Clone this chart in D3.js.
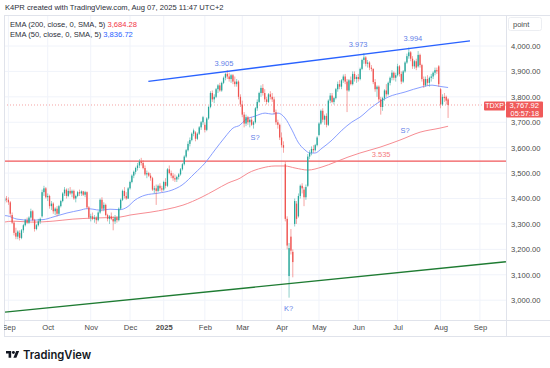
<!DOCTYPE html>
<html><head><meta charset="utf-8">
<script src="https://cdn.jsdelivr.net/npm/d3@7/dist/d3.min.js"></script>
<style>
html,body{margin:0;padding:0;background:#fff;}
svg{display:block;font-family:"Liberation Sans",Arial,sans-serif;}
</style></head>
<body>
<svg id="c" width="550" height="368"></svg>
<script>
// ---------- DATA ----------
const firstIndex = -2; // bar index of first candle (Aug 29 2024); index 0 = Sep 2 2024
// daily candles [open, high, low, close]
const ohlc = [
[3390,3405,3380,3400],[3400,3410,3385,3395],
// Sep 2024
[3395,3405,3375,3385],[3385,3390,3330,3340],[3335,3345,3300,3305],[3305,3310,3255,3265],[3265,3285,3240,3250],
[3250,3275,3240,3270],[3265,3275,3235,3245],[3245,3280,3240,3275],[3275,3300,3265,3295],[3295,3320,3290,3315],
[3315,3325,3300,3305],[3305,3330,3300,3325],[3325,3360,3320,3350],[3350,3355,3310,3315],[3315,3320,3270,3280],
[3280,3300,3275,3295],[3295,3320,3290,3310],[3310,3325,3300,3320],[3330,3435,3325,3425],[3425,3450,3410,3440],
[3440,3445,3400,3405],
// Oct
[3405,3420,3390,3410],[3410,3415,3360,3370],[3370,3390,3355,3380],[3380,3385,3340,3350],[3350,3365,3335,3360],
[3360,3370,3330,3340],[3340,3375,3335,3370],[3370,3395,3365,3390],[3390,3425,3385,3420],[3420,3445,3410,3435],
[3435,3440,3400,3410],[3410,3440,3405,3430],[3430,3445,3415,3420],[3420,3435,3405,3430],[3430,3435,3395,3400],
[3400,3415,3385,3410],[3410,3430,3405,3425],[3425,3435,3410,3420],[3420,3432,3410,3428],[3428,3430,3410,3415],
[3415,3430,3405,3425],[3425,3428,3360,3365],[3365,3370,3320,3325],
// Nov
[3325,3340,3310,3330],[3330,3345,3315,3320],[3320,3335,3305,3325],[3325,3330,3300,3315],[3315,3350,3310,3345],
[3345,3400,3340,3395],[3395,3405,3350,3360],[3360,3385,3350,3375],[3375,3380,3330,3335],[3335,3340,3310,3320],
[3320,3335,3300,3330],[3330,3345,3315,3320],[3320,3330,3275,3310],[3310,3335,3300,3325],[3325,3330,3305,3315],
[3315,3365,3310,3360],[3360,3400,3355,3395],[3395,3435,3390,3430],[3430,3445,3400,3410],[3410,3425,3395,3400],
[3400,3445,3398,3440],
// Dec
[3440,3470,3435,3465],[3465,3495,3460,3490],[3490,3510,3480,3505],[3505,3525,3495,3520],[3520,3540,3510,3530],
[3530,3555,3520,3545],[3545,3560,3530,3540],[3540,3550,3515,3520],[3520,3530,3490,3495],[3495,3510,3480,3500],
[3500,3505,3485,3490],[3490,3500,3470,3480],[3480,3485,3430,3435],[3435,3450,3420,3440],[3440,3455,3375,3430],
[3430,3455,3425,3450],[3450,3460,3430,3440],[3440,3450,3425,3435],
// Jan 2025
[3435,3470,3430,3465],[3465,3480,3440,3450],[3450,3520,3445,3515],[3515,3530,3495,3500],[3500,3510,3480,3490],
[3490,3500,3470,3480],[3480,3495,3465,3475],[3475,3490,3465,3485],[3485,3500,3475,3495],[3495,3520,3490,3515],
[3515,3540,3510,3535],[3535,3570,3530,3565],[3565,3595,3560,3590],[3590,3625,3585,3615],[3615,3640,3605,3630],
[3630,3660,3625,3655],[3655,3675,3645,3668],[3660,3665,3625,3635],[3635,3660,3630,3655],[3655,3685,3650,3680],
[3680,3705,3670,3700],[3700,3725,3690,3720],
// Feb
[3690,3700,3660,3670],[3670,3720,3665,3715],[3715,3765,3710,3760],[3760,3822,3755,3815],[3815,3825,3780,3790],
[3790,3810,3775,3800],[3800,3835,3795,3830],[3830,3850,3815,3845],[3845,3855,3820,3825],[3825,3860,3820,3855],
[3855,3880,3850,3875],[3875,3895,3865,3890],[3890,3905,3870,3880],[3880,3895,3860,3870],[3870,3890,3855,3885],
[3885,3890,3850,3860],[3860,3880,3840,3850],[3850,3870,3840,3860],[3860,3865,3790,3800],[3800,3810,3760,3770],
// Mar
[3770,3785,3720,3730],[3730,3740,3680,3695],[3695,3730,3685,3720],[3720,3725,3690,3700],[3700,3715,3680,3710],
[3710,3720,3685,3690],[3690,3705,3675,3700],[3700,3760,3695,3755],[3755,3790,3745,3780],[3780,3820,3775,3815],
[3815,3845,3800,3835],[3835,3850,3805,3815],[3815,3830,3780,3790],[3790,3800,3770,3780],[3780,3815,3775,3810],
[3810,3822,3790,3800],[3800,3815,3780,3790],[3790,3800,3730,3740],[3740,3750,3690,3700],[3700,3710,3675,3690],
[3690,3695,3630,3640],
// Apr
[3640,3660,3600,3610],[3610,3625,3580,3600],[3535,3545,3310,3320],[3320,3330,3200,3215],[3095,3225,3010,3205],
[3250,3280,3180,3195],[3190,3200,3090,3150],[3300,3400,3290,3390],[3380,3390,3300,3320],[3330,3420,3325,3410],
[3410,3455,3400,3450],[3450,3460,3420,3440],[3435,3445,3370,3405],[3405,3455,3395,3445],[3450,3575,3445,3565],
[3565,3590,3555,3580],[3580,3605,3570,3595],[3595,3610,3580,3590],[3590,3615,3585,3610],[3610,3645,3605,3640],
// May
[3650,3700,3645,3695],[3695,3750,3690,3745],[3745,3755,3700,3710],[3710,3730,3690,3725],[3725,3735,3680,3690],
[3690,3790,3685,3785],[3785,3815,3775,3805],[3805,3815,3775,3780],[3780,3800,3770,3795],[3795,3835,3790,3830],
[3830,3860,3820,3850],[3850,3866,3830,3840],[3840,3870,3830,3865],[3865,3888,3855,3880],[3880,3890,3850,3860],
[3860,3870,3740,3825],[3825,3870,3820,3865],[3865,3880,3845,3850],[3850,3900,3845,3890],[3890,3900,3860,3870],
[3870,3885,3855,3878],
// Jun
[3878,3890,3860,3870],[3870,3915,3865,3910],[3910,3950,3905,3945],[3945,3972,3930,3955],[3955,3960,3920,3930],
[3930,3945,3915,3935],[3935,3940,3905,3915],[3915,3925,3900,3910],[3910,3912,3850,3858],[3858,3870,3820,3830],
[3830,3845,3800,3840],[3840,3845,3780,3790],[3790,3800,3730,3760],[3760,3800,3745,3795],[3795,3830,3785,3825],
[3825,3850,3800,3810],[3810,3860,3805,3855],[3855,3880,3845,3875],[3875,3905,3865,3895],[3895,3900,3865,3875],
[3875,3895,3860,3885],
// Jul
[3885,3930,3880,3920],[3920,3925,3880,3890],[3890,3900,3850,3860],[3860,3905,3855,3900],[3900,3940,3895,3935],
[3935,3970,3930,3960],[3960,3994,3950,3975],[3975,3980,3940,3950],[3950,3960,3910,3920],[3920,3945,3910,3940],
[3940,3950,3905,3915],[3920,3980,3915,3965],[3965,3970,3915,3925],[3925,3930,3860,3870],[3870,3880,3835,3845],
[3845,3880,3840,3870],[3870,3885,3845,3855],[3855,3880,3840,3875],[3875,3890,3860,3880],[3880,3900,3870,3895],
[3895,3915,3885,3905],[3905,3915,3890,3900],[3920,3925,3840,3850],
// Aug
[3830,3835,3755,3770],[3770,3810,3765,3800],[3800,3815,3780,3795],[3800,3805,3770,3785],[3790,3795,3717,3768]
];
// smoothed EMA lines, sampled [bar index, value]
const ema50 = [[-2.4,3333],[-0.7,3332],[4.6,3319],[11.5,3315],[18.5,3317],[23.8,3327],[31.3,3343],[38.3,3354],
[42,3360],[45.2,3358],[49,3354],[54.3,3358],[59.6,3356],[63.4,3366],[67.7,3394],[73,3413],[80,3421],[87.4,3433],
[92.8,3453],[99.7,3500],[105,3539],[110.4,3591],[115.8,3642],[120,3677],[123.8,3689],[126.5,3709],[131.8,3724],
[137.2,3736],[140.9,3732],[144.1,3736],[147.8,3717],[151.6,3669],[154.8,3622],[158.5,3591],[161.2,3579],
[163.9,3579],[167.6,3598],[173,3630],[178.3,3669],[183.6,3701],[187.9,3720],[194.3,3760],[202.9,3799],
[212,3819],[221,3839],[226.4,3846],[230.7,3841],[235,3836.72]];
const ema200 = [[-2.4,3307],[2.5,3311],[13.1,3307],[23.8,3311],[34.5,3319],[45.2,3323],[59.6,3327],[65,3335],
[75.7,3346],[84.7,3358],[93.3,3374],[103.5,3406],[110.4,3433],[117.4,3461],[123.8,3480],[128.1,3500],
[135.5,3520],[142.5,3528],[147.8,3528],[153.2,3520],[160.1,3512],[167.6,3524],[174.6,3543],[181.5,3563],
[187.9,3579],[198.6,3602],[209.3,3630],[220,3661],[230.7,3677],[235,3684.28]];
// drawings
const upperTrend = [[74.8,3861],[246.7,4020]];
const lowerTrend = [[-1.8,2953],[265.9,3151]];
const supportLevel = 3547;
const lastPrice = 3767.92;
const monthTicks = [[0,'Sep'],[21,'Oct'],[44,'Nov'],[65,'Dec'],[83,'2025'],[105,'Feb'],[125,'Mar'],[146,'Apr'],
[166,'May'],[187,'Jun'],[208,'Jul'],[231,'Aug'],[252,'Sep']];
const priceTicks = [3000,3100,3200,3300,3400,3500,3600,3700,3800,3900,4000];
const blueNotes = [[115.2,3921,'3.905'],[186.9,3996,'3.973'],[216.2,4020,'3.994'],[131.8,3630,'S?'],[212,3658,'S?'],[149.7,2958,'K?']];
const redNotes = [[199.2,3563,'3.535']];

// ---------- LAYOUT ----------
const svg = d3.select('#c');
const L = 4, R = 506, T = 15, B = 320, AX = 336;
const x = d3.scaleLinear().domain([0,252]).range([8.4,479.9]);
const y = d3.scaleLinear().domain([3000,4000]).range([300.2,46]);
const grid = '#f0f3fa', border = '#e0e3eb';
const up = '#26a69a', down = '#ef5350';

svg.append('defs').append('clipPath').attr('id','plot').append('rect')
  .attr('x',L).attr('y',T).attr('width',R-L).attr('height',B-T);
svg.select('defs').append('clipPath').attr('id','taxis').append('rect')
  .attr('x',L).attr('y',B).attr('width',R-L).attr('height',AX-B);

// grid
const g = svg.append('g').attr('clip-path','url(#plot)');
g.selectAll('.hg').data(priceTicks).join('line')
  .attr('x1',L).attr('x2',R).attr('y1',d=>y(d)).attr('y2',d=>y(d)).attr('stroke',grid);
g.selectAll('.vg').data(monthTicks).join('line')
  .attr('x1',d=>x(d[0])).attr('x2',d=>x(d[0])).attr('y1',T).attr('y2',B).attr('stroke',grid);

// support level
g.append('line').attr('x1',L).attr('x2',R).attr('y1',y(supportLevel)).attr('y2',y(supportLevel))
  .attr('stroke','#f0575a').attr('stroke-width',1.4);

// EMA lines
const ln = d3.line().x(d=>x(d[0])).y(d=>y(d[1])).curve(d3.curveMonotoneX);
g.append('path').attr('d',ln(ema200)).attr('fill','none').attr('stroke','#f57f86').attr('stroke-width',0.9);
g.append('path').attr('d',ln(ema50)).attr('fill','none').attr('stroke','#7b93ff').attr('stroke-width',0.9);

// last price dotted line
g.append('line').attr('x1',L).attr('x2',R).attr('y1',y(lastPrice)).attr('y2',y(lastPrice))
  .attr('stroke','#f28b8b').attr('stroke-dasharray','1,2').attr('stroke-width',0.8);

// candles
const bars = ohlc.map((d,i)=>({i:i+firstIndex,o:d[0],h:d[1],l:d[2],c:d[3]}));
const cg = g.append('g');
cg.selectAll('.w').data(bars).join('line')
  .attr('x1',d=>x(d.i)).attr('x2',d=>x(d.i)).attr('y1',d=>y(d.h)).attr('y2',d=>y(d.l))
  .attr('stroke',d=>d.c>=d.o?up:down).attr('stroke-width',0.7).attr('opacity',0.75);
cg.selectAll('.b').data(bars).join('rect')
  .attr('x',d=>x(d.i)-0.65).attr('width',1.3)
  .attr('y',d=>y(Math.max(d.o,d.c))).attr('height',d=>Math.max(0.8,Math.abs(y(d.o)-y(d.c))))
  .attr('fill',d=>d.c>=d.o?up:down);

// trend lines
const tl = d3.line().x(d=>x(d[0])).y(d=>y(d[1]));
g.append('path').attr('d',tl(upperTrend)).attr('stroke','#2962ff').attr('stroke-width',1.4).attr('fill','none');
g.append('path').attr('d',tl(lowerTrend)).attr('stroke','#1e7b32').attr('stroke-width',1.4).attr('fill','none');

// annotations
g.selectAll('.bn').data(blueNotes).join('text')
  .attr('x',d=>x(d[0])).attr('y',d=>y(d[1])).attr('text-anchor','middle')
  .attr('font-size',7.5).attr('fill','#5f7fe8').text(d=>d[2]);
g.selectAll('.rn').data(redNotes).join('text')
  .attr('x',d=>x(d[0])).attr('y',d=>y(d[1])).attr('text-anchor','middle')
  .attr('font-size',7.5).attr('fill','#f47c80').text(d=>d[2]);

// frame
svg.append('line').attr('x1',L).attr('x2',550).attr('y1',T+0.5).attr('y2',T+0.5).attr('stroke',border);
svg.append('line').attr('x1',L+0.5).attr('x2',L+0.5).attr('y1',T).attr('y2',AX).attr('stroke',border);
svg.append('line').attr('x1',L).attr('x2',550).attr('y1',B+0.5).attr('y2',B+0.5).attr('stroke',border);
svg.append('line').attr('x1',L).attr('x2',550).attr('y1',AX+0.5).attr('y2',AX+0.5).attr('stroke',border);
svg.append('line').attr('x1',R+0.5).attr('x2',R+0.5).attr('y1',T).attr('y2',AX).attr('stroke',border);

// price axis
const pa = svg.append('g').attr('transform',`translate(${R},0)`)
  .call(d3.axisRight(y).tickValues(priceTicks).tickSize(0).tickPadding(5).tickFormat(d3.format(',.2f')));
pa.select('.domain').remove();
pa.selectAll('text').attr('font-size',7.6).attr('fill','#4a4a4a').attr('font-family','"Liberation Sans",Arial,sans-serif');

// unit box
svg.append('rect').attr('x',508.5).attr('y',17.5).attr('width',33).attr('height',13).attr('rx',2)
  .attr('fill','#fff').attr('stroke','#eceef2');
svg.append('text').attr('x',513).attr('y',27).attr('font-size',7.5).attr('fill','#4a4a4a').text('point');

// last price labels
const ly = y(lastPrice);
svg.append('rect').attr('x',484).attr('y',ly-3.5).attr('width',21).attr('height',9).attr('rx',1).attr('fill','#f05a5a');
svg.append('text').attr('x',494.5).attr('y',ly+3.3).attr('text-anchor','middle').attr('font-size',7).attr('fill','#fff').text('TDXP');
svg.append('rect').attr('x',506).attr('y',ly-3.5).attr('width',37).attr('height',16).attr('rx',1).attr('fill','#f05a5a');
svg.append('text').attr('x',539).attr('y',ly+3.3).attr('text-anchor','end').attr('font-size',7.6).attr('fill','#fff').text(d3.format(',.2f')(lastPrice));
svg.append('text').attr('x',539).attr('y',ly+10.8).attr('text-anchor','end').attr('font-size',7.3).attr('fill','#fff').text('05:57:18');

// time axis
const ta = svg.append('g').attr('clip-path','url(#taxis)').append('g').attr('transform',`translate(0,${B})`)
  .call(d3.axisBottom(x).tickValues(monthTicks.map(d=>d[0])).tickSize(0).tickPadding(5)
     .tickFormat(v=>monthTicks.find(d=>d[0]===v)[1]));
ta.select('.domain').remove();
ta.selectAll('text').attr('font-size',7.6).attr('fill','#4a4a4a').attr('font-family','"Liberation Sans",Arial,sans-serif')
  .attr('font-weight',d=>d===83?'bold':'normal');

// header + legend
svg.append('text').attr('x',5).attr('y',10).attr('font-size',7.6).attr('fill','#2a2e39')
  .text('K4PR created with TradingView.com, Aug 07, 2025 11:47 UTC+2');
const leg = [['EMA (200, close, 0, SMA, 5)','3,684.28','#f23645'],['EMA (50, close, 0, SMA, 5)','3,836.72','#2962ff']];
leg.forEach((d,k)=>{
  const t = svg.append('text').attr('x',10).attr('y',26.5+k*10.5).attr('font-size',7.6).attr('fill','#2a2e39');
  t.append('tspan').text(d[0]+' ');
  t.append('tspan').attr('fill',d[2]).text(d[1]);
});

// logo
const logo = svg.append('g').attr('transform','translate(6,349.5) scale(0.37)').attr('fill','#131722');
logo.append('path').attr('d','M14 22H7V11H0V4h14v18zM28 22h-8l7.5-18h8L28 22z');
logo.append('circle').attr('cx',20).attr('cy',8).attr('r',4);
svg.append('text').attr('x',23).attr('y',358.5).attr('font-size',11.2).attr('font-weight',600)
  .attr('fill','#131722').attr('font-family','Inter,"Liberation Sans",Arial,sans-serif').text('TradingView');
</script>
</body></html>
